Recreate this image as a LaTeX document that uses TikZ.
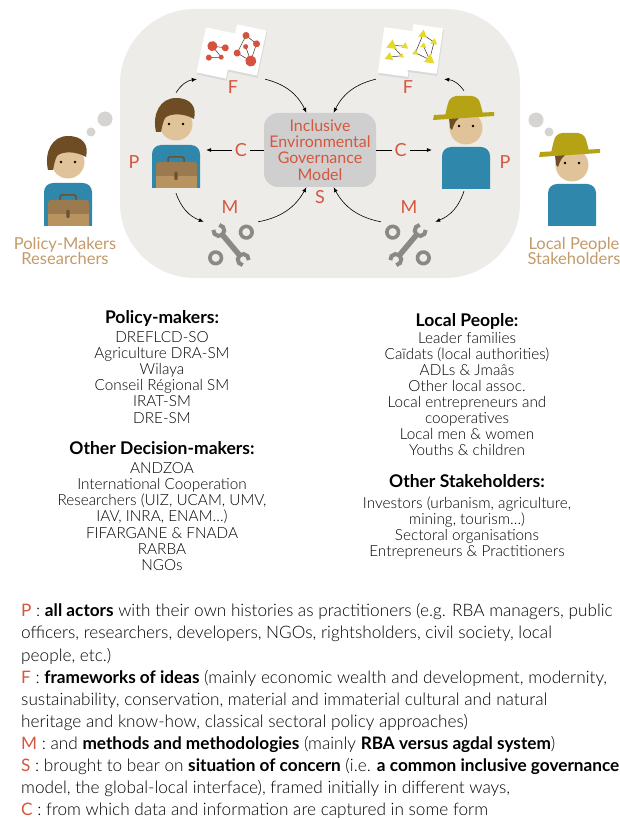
\documentclass[tikz,border=0pt]{standalone}
\usepackage{fontspec}
\setmainfont{Lato}[UprightFont={* Light},BoldFont={* Bold}]
\newfontfamily\regfont{Lato}
\usetikzlibrary{arrows.meta}

\definecolor{bgc}{HTML}{EDECE8}
\definecolor{boxc}{HTML}{CFCFCF}
\definecolor{ink}{HTML}{D5573F}
\definecolor{tan}{HTML}{C39B6A}
\definecolor{shirt}{HTML}{2F88AB}
\definecolor{skin}{HTML}{E0C398}
\definecolor{hair}{HTML}{6F4D24}
\definecolor{bagdark}{HTML}{9B7A50}
\definecolor{baglight}{HTML}{B8935F}
\definecolor{handle}{HTML}{6B5232}
\definecolor{hat}{HTML}{B5A315}
\definecolor{toolc}{HTML}{8C8984}
\definecolor{bubble}{HTML}{D6D4D0}
\definecolor{dotred}{HTML}{D5533E}
\definecolor{yel}{HTML}{E6D92A}

\newcommand{\keyl}[1]{{\regfont\color{ink}#1}}

% person with a briefcase, head centre at #1,#2
\newcommand{\bagperson}[2]{%
  \begin{scope}[shift={(#1,#2)}]
    \fill[shirt] (-24,64) -- (-24,30) arc[start angle=180,end angle=270,radius=9]
      -- (15,21) arc[start angle=270,end angle=360,radius=9] -- (24,64) -- cycle;
    \fill[bagdark,rounded corners=3] (-20,64) -- (-20,38) -- (21,38) -- (21,64) -- cycle;
    \fill[baglight] (-20,52) rectangle (21,64);
    \draw[handle,line width=1.5pt,rounded corners=1.5] (-8,38) -- (-8,33) -- (8,33) -- (8,38);
    \fill[handle,rounded corners=1] (-1.6,48) rectangle (1.6,56);
    \fill[skin] (0,0) circle (16.5);
    \fill[hair] (-20,8) .. controls (-24,-10) and (-16,-26) .. (0,-26)
      .. controls (15,-26) and (21,-17) .. (18,-5)
      .. controls (8,-11) and (-6,-11) .. (-11,-6)
      .. controls (-13,-2) and (-14,3) .. (-15,8) -- cycle;
    \fill (-7,0) circle (1.3);
    \fill (7,0) circle (1.3);
  \end{scope}}

% person with a hat, head centre at #1,#2
\newcommand{\hatperson}[2]{%
  \begin{scope}[shift={(#1,#2)}]
    \fill[shirt] (-24,61) -- (-24,28) arc[start angle=180,end angle=270,radius=9]
      -- (15,19) arc[start angle=270,end angle=360,radius=9] -- (24,61) -- cycle;
    \fill[skin] (0,0) circle (16.5);
    \fill[hair] (-17,-10) -- (-7,-10) .. controls (-11,-6) .. (-14,2) -- (-16,0) -- cycle;
    \fill (-7,-2) circle (1.3);
    \fill (7,-2) circle (1.3);
    \fill[hat] (-21,-12) .. controls (-17,-30) .. (-10,-32) -- (6,-32) .. controls (13,-30) .. (17,-14) -- cycle;
    \fill[hat] (-33,-8) -- (28,-12) -- (28,-16) -- (-32,-13) -- cycle;
  \end{scope}}

% sheet of paper
\newcommand{\sheet}[4]{%
  \begin{scope}[shift={(#1,#2)},rotate=#3]
    \fill[black!15] (-14,-22) rectangle (16,25);
    \fill[white] (-15,-23) rectangle (15,23);
    #4
  \end{scope}}

\newcommand{\tri}[3]{\fill[yel] (#1,{#2-#3}) -- ({#1+0.87*#3},{#2+0.5*#3}) -- ({#1-0.87*#3},{#2+0.5*#3}) -- cycle;}

% spanner and two nuts
\newcommand{\spanner}[3]{%
  \begin{scope}[shift={(#1,#2)},rotate=#3]
    \draw[toolc,line width=5.5pt] (-13,0) -- (13,0);
    \draw[toolc,line width=4pt] (19,0) ++(45:5.5) arc[start angle=45,end angle=315,radius=5.5];
    \draw[toolc,line width=4pt] (-19,0) ++(225:5.5) arc[start angle=225,end angle=495,radius=5.5];
    \draw[toolc,line width=3.6pt] (0,20) circle (5.8);
    \draw[toolc,line width=3.6pt] (0,-20) circle (5.8);
  \end{scope}}

\tikzset{
  flow/.style={-{Latex[length=5pt,width=4pt]},line width=0.6pt},
  letter/.style={text=ink,font=\regfont\fontsize{18}{18}\selectfont,inner sep=0pt},
  model/.style={fill=boxc,rounded corners=14,minimum width=112,minimum height=74,
    align=center,text=ink,font=\regfont\fontsize{16}{16.3}\selectfont},
  who/.style={text=tan,align=center,font=\regfont\fontsize{16.5}{15}\selectfont},
  heading/.style={anchor=base,inner sep=0pt,font=\bfseries\fontsize{17.5}{18}\selectfont},
  item/.style={anchor=base,inner sep=0pt,font=\fontsize{15.3}{16}\selectfont},
  notes/.style={anchor=north west,align=left,inner sep=0pt,font=\fontsize{17.2}{22.1}\selectfont}
}

\begin{document}
\begin{tikzpicture}[x=1pt,y=-1pt]
  \path[use as bounding box] (0,0) rectangle (619,818);
  \fill[white] (0,0) rectangle (619,818);
  \fill[bgc,rounded corners=75] (120,9) rectangle (520,278);

  % outside actors
  \fill[bubble] (105,119) circle (7.5);
  \fill[bubble] (91,132) circle (4.5);
  \bagperson{68}{162}
  \node[who] (pmlab) at (65,251) {Policy-Makers\\Researchers};
  \fill[bubble] (536,120) circle (7.5);
  \fill[bubble] (549,132) circle (4.5);
  \hatperson{572}{165}
  \node[who] (lplab) at (574,251) {Local People\\Stakeholders};

  % actors inside the cycle
  \bagperson{176}{124}
  \hatperson{466}{128}
  \node[inner sep=0pt,minimum width=60,minimum height=100] (lpers) at (176,143) {};
  \node[inner sep=0pt,minimum width=64,minimum height=100] (rpers) at (464,141) {};

  % frameworks
  \sheet{216}{53}{-12}{
    \draw[black!80,line width=0.5pt] (-5,-6) -- (6,3) -- (-6,6);
    \draw[black!80,line width=0.5pt] (-5,-6) -- (8,-7);
    \fill[dotred] (-5,-6) circle (5);
    \fill[dotred] (8,-7) circle (3.5);
    \fill[dotred] (-6,6) circle (3);
    \fill[dotred] (6,3) circle (2.5);}
  \sheet{247}{50}{-12}{
    \draw[black!80,line width=0.5pt] (-4,-14) -- (8,-8) -- (6,10) -- (-9,5) -- (-4,-14);
    \draw[black!80,line width=0.5pt] (-2,-3) -- (6,10);
    \fill[dotred] (-4,-14) circle (3.5);
    \fill[dotred] (8,-8) circle (3.5);
    \fill[dotred] (-2,-3) circle (2.5);
    \fill[dotred] (-9,5) circle (3.5);
    \fill[dotred] (6,10) circle (5.5);}
  \sheet{396}{52}{-8}{
    \draw[black!80,line width=0.5pt] (-5,-6) -- (6,3) -- (-6,6);
    \draw[black!80,line width=0.5pt] (-5,-6) -- (8,-7);
    \tri{-5}{-6}{6}
    \tri{8}{-7}{4}
    \tri{-6}{6}{5}
    \tri{6}{3}{3}}
  \sheet{425}{49}{-8}{
    \draw[black!80,line width=0.5pt] (-4,-14) -- (8,-8) -- (6,10) -- (-9,5) -- (-4,-14);
    \draw[black!80,line width=0.5pt] (-2,-3) -- (6,10);
    \tri{-4}{-14}{5}
    \tri{8}{-8}{4}
    \tri{-2}{-3}{3.5}
    \tri{-9}{5}{3.5}
    \tri{6}{10}{6}}
  \node[inner sep=0pt,minimum width=68,minimum height=58] (lpap) at (231,50) {};
  \node[inner sep=0pt,minimum width=68,minimum height=58] (rpap) at (410,50) {};

  % methods
  \spanner{231}{245}{-50}
  \spanner{408}{245}{-130}
  \node[inner sep=0pt,minimum width=54,minimum height=46] (lwr) at (231,245) {};
  \node[inner sep=0pt,minimum width=54,minimum height=46] (rwr) at (408,245) {};

  % situation of concern
  \node[model] (box) at (320,150) {Inclusive\\Environmental\\Governance\\Model};

  \draw[flow] (lpers.north) to[bend left=25] (lpap.south west);
  \draw[flow] (lpap.south east) to[bend left=25] (box.110);
  \draw[flow] (lpers.south) to[bend right=25] (lwr.north west);
  \draw[flow] (lwr.north east) to[bend right=25] (box.250);
  \draw[flow] (rpap.south west) to[bend right=25] (box.70);
  \draw[flow] (rpers.north) to[bend right=25] (rpap.south east);
  \draw[flow] (rpers.south) to[bend left=25] (rwr.north east);
  \draw[flow] (rwr.north west) to[bend left=25] (box.290);
  \draw[flow] (box.west) -- node[letter,fill=bgc,inner sep=3pt,pos=0.4] (cl) {C} (box.west -| lpers.east);
  \draw[flow] (box.east) -- node[letter,fill=bgc,inner sep=3pt,pos=0.44] (cr) {C} (box.east -| rpers.west);

  \node[letter] (fl) at (233,87) {F};
  \node[letter] (fr) at (408,87) {F};
  \node[letter] (pl) at (134,162) {P};
  \node[letter] (pr) at (505,162) {P};
  \node[letter] (ml) at (230,207) {M};
  \node[letter] (mr) at (409,207) {M};
  \node[letter] (s) at (320,197) {S};

  % actor lists
  \node[heading] (pmhead) at (162,323) {Policy-makers:};
  \foreach \t [count=\i] in {DREFLCD-SO, Agriculture DRA-SM, Wilaya, Conseil Régional SM, IRAT-SM, DRE-SM}
    \node[item] (pm\i) at (162,{342+16.2*(\i-1)}) {\t};
  \node[heading] (odhead) at (162,454) {Other Decision-makers:};
  \foreach \t [count=\i] in {ANDZOA, International Cooperation, {Researchers (UIZ, UCAM, UMV,}, {IAV, INRA, ENAM…)}, FIFARGANE \& FNADA, RARBA, NGOs}
    \node[item] (od\i) at (162,{473+16.3*(\i-1)}) {\t};
  \node[heading] (lphead) at (467,326) {Local People:};
  \foreach \t [count=\i] in {Leader families, Caïdats (local authorities), ADLs \& Jmaâs, Other local assoc., Local entrepreneurs and, cooperatives, Local men \& women, Youths \& children}
    \node[item] (lp\i) at (467,{343+16.1*(\i-1)}) {\t};
  \node[heading] (oshead) at (467,487) {Other Stakeholders:};
  \foreach \t [count=\i] in {{Investors (urbanism, agriculture,}, {mining, tourism…)}, Sectoral organisations, Entrepreneurs \& Practitioners}
    \node[item] (os\i) at (467,{508+16*(\i-1)}) {\t};

  % legend
  \node[notes] (legend) at (21,603.5) {%
    \keyl{P} : \textbf{all actors} with their own histories as practitioners (e.g. RBA managers, public\\
    officers, researchers, developers, NGOs, rightsholders, civil society, local\\
    people, etc.)\\
    \keyl{F} : \textbf{frameworks of ideas} (mainly economic wealth and development, modernity,\\
    sustainability, conservation, material and immaterial cultural and natural\\
    heritage and know-how, classical sectoral policy approaches)\\
    \keyl{M} : and \textbf{methods and methodologies} (mainly \textbf{RBA versus agdal system})\\
    \keyl{S} : brought to bear on \textbf{situation of concern} (i.e. \textbf{a common inclusive governance}\\
    model, the global-local interface), framed initially in different ways,\\
    \keyl{C} : from which data and information are captured in some form};
\end{tikzpicture}
\end{document}
